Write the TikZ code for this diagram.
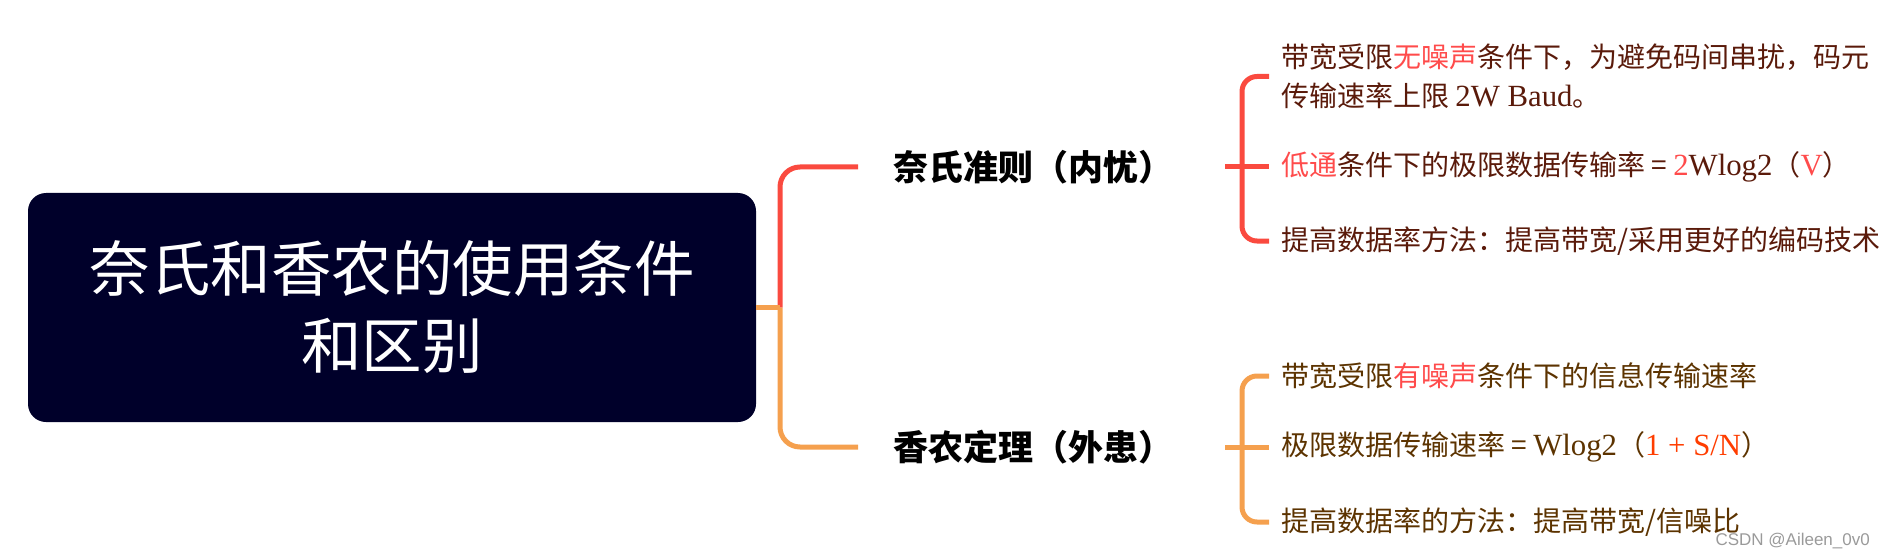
\documentclass[tikz,border=0pt]{standalone}
\usepackage{fontspec}
\setmainfont{Noto Sans CJK SC}
\newfontfamily\lat[Scale=1.1]{Liberation Serif}
\newfontfamily\wm{Liberation Sans}
\usetikzlibrary{calc}
\definecolor{boxbg}{HTML}{00002A}
\definecolor{rline}{HTML}{FA4A3F}
\definecolor{oline}{HTML}{F5A04E}
\definecolor{rtext}{HTML}{5A1A0A}
\definecolor{otext}{HTML}{5C3300}
\definecolor{hl}{HTML}{FF4B4B}
\definecolor{hlo}{HTML}{FF3D00}
\definecolor{wmgray}{HTML}{9A9A9A}
\tikzset{
  rootbox/.style={fill=boxbg, rounded corners=18pt, minimum width=728pt, minimum height=229pt,
    text=white, font=\fontsize{60.5}{77}\selectfont, align=center, inner sep=0pt},
  head/.style={anchor=west, inner sep=0pt, font=\fontsize{35}{42}\selectfont\bfseries, text=black},
  itemnode/.style={anchor=west, inner xsep=12pt, inner ysep=0pt, font=\fontsize{28}{39}\selectfont, align=left},
  redline/.style={draw=rline, line width=5pt},
  orline/.style={draw=oline, line width=5pt},
}
\begin{document}
\begin{tikzpicture}[x=1pt,y=-1pt]
\useasboundingbox (0,0) rectangle (1891,559);
\node[rootbox] (root) at (392,307.5) {奈氏和香农的使用条件\\和区别};
\coordinate (j) at (780,307.5);
\node[head] (n1) at (893,167) {奈氏准则（内忧）};
\node[head] (n2) at (893,447) {香农定理（外患）};

\node[itemnode, text=rtext] (a1) at (1269,76.5) {带宽受限\textcolor{hl}{无噪声}条件下，为避免码间串扰，码元\\传输速率上限 {\lat 2W Baud}。};
\node[itemnode, text=rtext] (a2) at (1269,167) {\textcolor{hl}{低通}条件下的极限数据传输率 = {\lat\textcolor{hl}{2}Wlog2}（{\lat\textcolor{hl}{V}}）};
\node[itemnode, text=rtext] (a3) at (1269,241) {提高数据率方法：提高带宽/采用更好的编码技术};

\node[itemnode, text=otext] (b1) at (1269,376) {带宽受限\textcolor{hl}{有噪声}条件下的信息传输速率};
\node[itemnode, text=otext] (b2) at (1269,447) {极限数据传输速率 = {\lat Wlog2}（{\lat\textcolor{hlo}{1 + S/N}}）};
\node[itemnode, text=otext] (b3) at (1269,522) {提高数据率的方法：提高带宽/信噪比};

\node[anchor=east, inner sep=0pt, text=wmgray, font=\wm\fontsize{17}{19}\selectfont] (wm) at (1870,541) {CSDN @Aileen\_0v0};

\draw[redline, rounded corners=20pt] (j) |- ($(n1.west)+(-35,0)$);
\draw[orline, rounded corners=20pt] (j) |- ($(n2.west)+(-35,0)$);
\draw[orline] (root.east) -- (j);

\draw[redline] ($(n1.east)+(52,0)$) -- (a2.west);
\draw[redline, rounded corners=15pt] (a1.west) -- ++(-27,0) |- (a3.west);

\draw[orline] ($(n2.east)+(52,0)$) -- (b2.west);
\draw[orline, rounded corners=15pt] (b1.west) -- ++(-27,0) |- (b3.west);
\end{tikzpicture}
\end{document}
